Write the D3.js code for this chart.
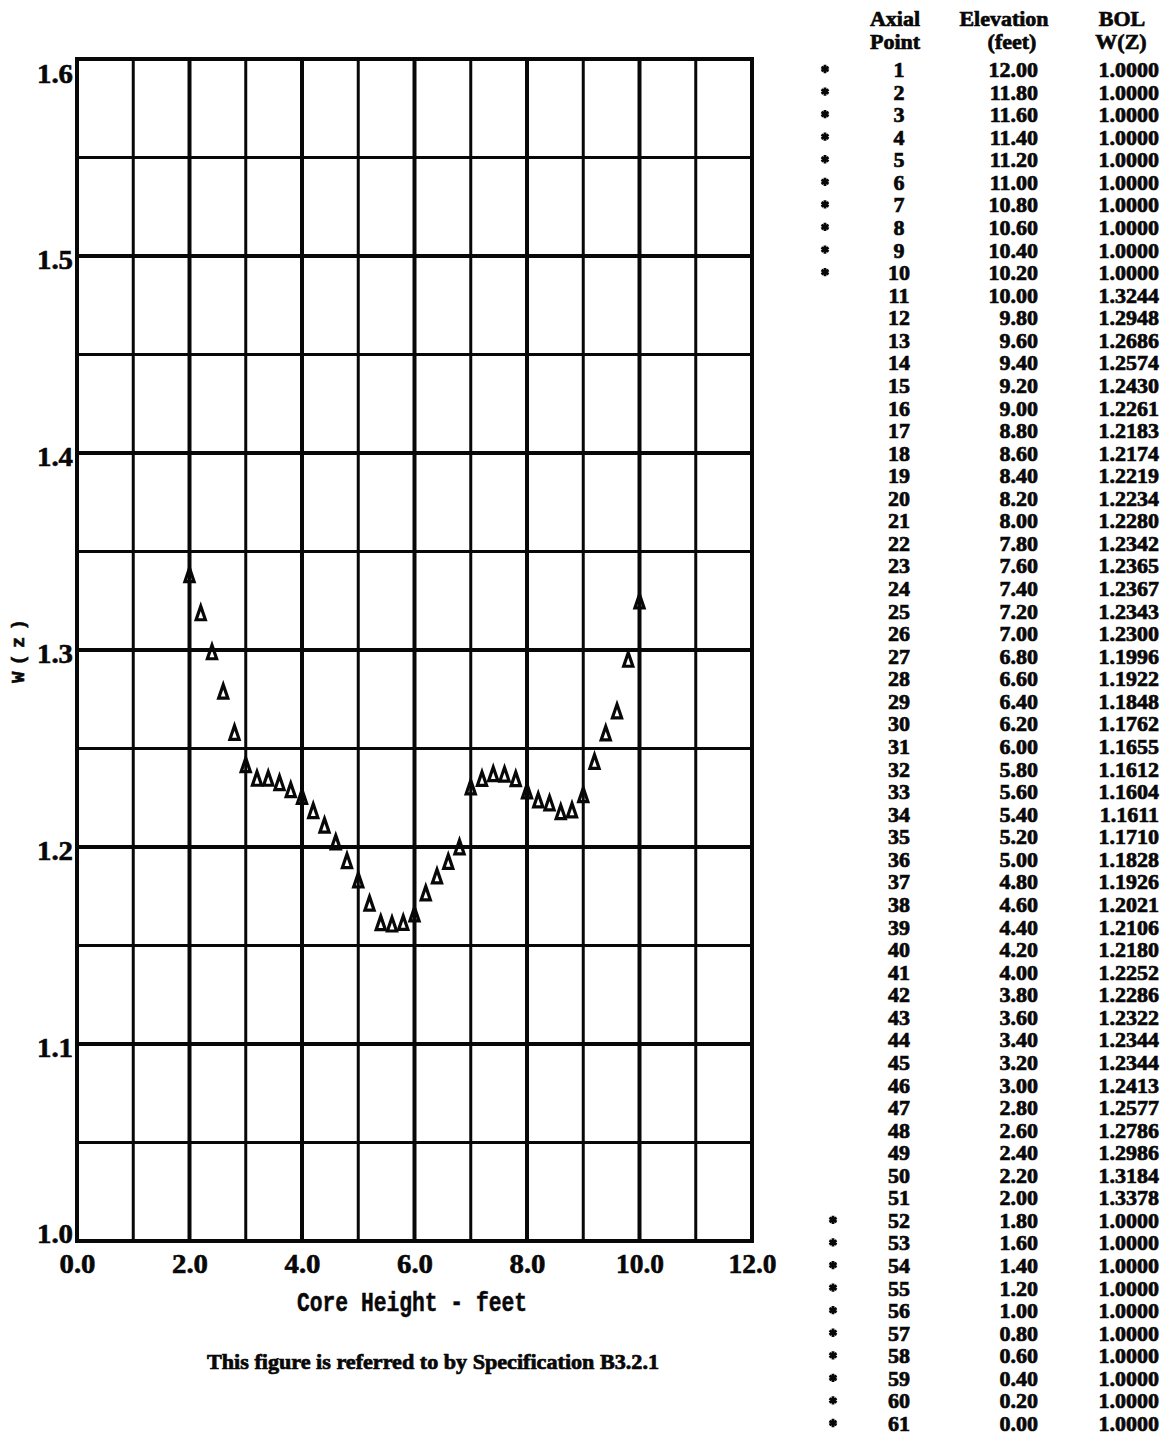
<!DOCTYPE html>
<html>
<head>
<meta charset="utf-8">
<script src="https://cdn.jsdelivr.net/npm/d3@7"></script>
<style>
  html, body { margin: 0; padding: 0; background: #fff; }
  svg { display: block; }
</style>
</head>
<body>
<svg id="chart" width="1165" height="1441"></svg>
<script>
// ---------------- data ----------------
const axialPoints = [1,2,3,4,5,6,7,8,9,10,11,12,13,14,15,16,17,18,19,20,
  21,22,23,24,25,26,27,28,29,30,31,32,33,34,35,36,37,38,39,40,
  41,42,43,44,45,46,47,48,49,50,51,52,53,54,55,56,57,58,59,60,61];
const elevations = [12.00,11.80,11.60,11.40,11.20,11.00,10.80,10.60,10.40,10.20,
  10.00,9.80,9.60,9.40,9.20,9.00,8.80,8.60,8.40,8.20,
  8.00,7.80,7.60,7.40,7.20,7.00,6.80,6.60,6.40,6.20,
  6.00,5.80,5.60,5.40,5.20,5.00,4.80,4.60,4.40,4.20,
  4.00,3.80,3.60,3.40,3.20,3.00,2.80,2.60,2.40,2.20,
  2.00,1.80,1.60,1.40,1.20,1.00,0.80,0.60,0.40,0.20,0.00];
const bolWz = [1.0000,1.0000,1.0000,1.0000,1.0000,1.0000,1.0000,1.0000,1.0000,1.0000,
  1.3244,1.2948,1.2686,1.2574,1.2430,1.2261,1.2183,1.2174,1.2219,1.2234,
  1.2280,1.2342,1.2365,1.2367,1.2343,1.2300,1.1996,1.1922,1.1848,1.1762,
  1.1655,1.1612,1.1604,1.1611,1.1710,1.1828,1.1926,1.2021,1.2106,1.2180,
  1.2252,1.2286,1.2322,1.2344,1.2344,1.2413,1.2577,1.2786,1.2986,1.3184,
  1.3378,1.0000,1.0000,1.0000,1.0000,1.0000,1.0000,1.0000,1.0000,1.0000,1.0000];
const excluded = [1,2,3,4,5,6,7,8,9,10,52,53,54,55,56,57,58,59,60,61];

const xTicks = [0,2,4,6,8,10,12];
const yTicks = [1.0,1.1,1.2,1.3,1.4,1.5,1.6];
const xGrid = [1,2,3,4,5,6,7,8,9,10,11];
const yGrid = [1.05,1.1,1.15,1.2,1.25,1.3,1.35,1.4,1.45,1.5,1.55];

const xTitle = "Core Height - feet";
const yTitle = "W(z)";
const caption = "This figure is referred to by Specification B3.2.1";
const tableHead1 = ["Axial", "Elevation", "BOL"];
const tableHead2 = ["Point", "(feet)", "W(Z)"];

// ---------------- layout ----------------
const svg = d3.select("#chart");
svg.append("rect").attr("width",1165).attr("height",1441).attr("fill","#fff");

const L = 77, R = 752, T = 59, B = 1241;
const x = d3.scaleLinear().domain([0,12]).range([L,R]);
const y = d3.scaleLinear().domain([1.0,1.6]).range([B,T]);
const ink = "#080808";
const mono = "'Liberation Mono', 'DejaVu Sans Mono', monospace";
const serif = "'Liberation Serif', 'DejaVu Serif', serif";

const g = svg.append("g");

// grid lines
const isMajX = d => Math.abs(d % 2) < 1e-9;
const isMajY = d => Math.abs(Math.round(d*100) % 10) < 1e-6;
g.append("g").selectAll("line").data(xGrid).join("line")
  .attr("x1", d=>x(d)).attr("x2", d=>x(d)).attr("y1", T).attr("y2", B)
  .attr("stroke", ink).attr("stroke-width", d=>isMajX(d)?4:3);
g.append("g").selectAll("line").data(yGrid).join("line")
  .attr("x1", L).attr("x2", R).attr("y1", d=>y(d)).attr("y2", d=>y(d))
  .attr("stroke", ink).attr("stroke-width", d=>isMajY(d)?4:3);
// frame
g.append("rect").attr("x",L).attr("y",T).attr("width",R-L).attr("height",B-T)
  .attr("fill","none").attr("stroke",ink).attr("stroke-width",4);

// axes
const fmt1 = d3.format(".1f");
const xAxis = g.append("g").attr("transform",`translate(0,${B})`)
  .call(d3.axisBottom(x).tickValues(xTicks).tickFormat(fmt1).tickSize(0));
xAxis.select(".domain").remove();
xAxis.selectAll("text")
  .attr("y", 32).attr("dy", 0)
  .attr("font-family", serif).attr("font-weight","bold").attr("font-size", 27)
  .attr("fill", ink).attr("stroke", ink).attr("stroke-width", 0.6)
  .attr("textLength", d=>fmt1(d).length*12).attr("lengthAdjust","spacingAndGlyphs");

const yAxis = g.append("g").attr("transform",`translate(${L},0)`)
  .call(d3.axisLeft(y).tickValues(yTicks).tickFormat(fmt1).tickSize(0).tickPadding(4));
yAxis.select(".domain").remove();
yAxis.selectAll("text")
  .attr("dy", 0)
  .attr("y", d => d===1.6 ? 23 : (d===1.0 ? 1 : 12))
  .attr("font-family", serif).attr("font-weight","bold").attr("font-size", 27)
  .attr("fill", ink).attr("stroke", ink).attr("stroke-width", 0.6)
  .attr("textLength", d=>fmt1(d).length*12).attr("lengthAdjust","spacingAndGlyphs");

// axis titles
g.append("text").attr("x", 412).attr("y", 1311).attr("text-anchor","middle")
  .attr("font-family", mono).attr("font-weight","bold").attr("font-size", 28)
  .attr("fill", ink).attr("stroke", ink).attr("stroke-width", 0.5)
  .attr("textLength", 230).attr("lengthAdjust","spacingAndGlyphs")
  .text(xTitle);
g.append("text").attr("transform","rotate(-90)")
  .attr("x", -651).attr("y", 24).attr("text-anchor","middle")
  .attr("font-family", mono).attr("font-weight","bold").attr("font-size", 19)
  .attr("fill", ink).attr("stroke", ink).attr("stroke-width", 0.6)
  .attr("textLength", 64).attr("lengthAdjust","spacing")
  .text(yTitle);

// caption
g.append("text").attr("x", 433).attr("y", 1369).attr("text-anchor","middle")
  .attr("font-family", serif).attr("font-weight","bold").attr("font-size", 21)
  .attr("fill", ink).attr("stroke", ink).attr("stroke-width", 0.7)
  .attr("textLength", 452).attr("lengthAdjust","spacingAndGlyphs")
  .text(caption);

// data markers (non-excluded points)
const pts = axialPoints.map((p,i)=>({p, e:elevations[i], w:bolWz[i]}))
  .filter(d => !excluded.includes(d.p));
const tri = "M0,-7.5 L4.6,6 L-4.6,6 Z";
g.append("g").selectAll("path").data(pts).join("path")
  .attr("transform", d=>`translate(${x(d.e)},${y(d.w)})`)
  .attr("d", tri).attr("fill","none").attr("stroke", ink)
  .attr("stroke-width", 3.2).attr("stroke-linejoin","miter");

// ---------------- table ----------------
const tg = svg.append("g").attr("font-family", serif).attr("font-weight","bold")
  .attr("font-size", 22).attr("fill", ink).attr("stroke", ink).attr("stroke-width", 0.7);
const rowY = d3.scalePoint().domain(axialPoints).range([77, 1431]);
const colX = [899, 1038, 1159];
const colAnchor = ["middle","end","end"];
const headX = [895, 1004, 1122];
const head2X = [895, 1012, 1121];
tg.selectAll("text.h1").data(tableHead1).join("text").attr("class","h1")
  .attr("x",(d,i)=>headX[i]).attr("y",26).attr("text-anchor","middle").text(d=>d);
tg.selectAll("text.h2").data(tableHead2).join("text").attr("class","h2")
  .attr("x",(d,i)=>head2X[i]).attr("y",49).attr("text-anchor","middle").text(d=>d);

const fmt2 = d3.format(".2f"), fmt4 = d3.format(".4f");
const rows = tg.selectAll("g.row").data(axialPoints.map((p,i)=>({p, e:elevations[i], w:bolWz[i]})))
  .join("g").attr("class","row").attr("transform", d=>`translate(0,${rowY(d.p)})`);
rows.append("text").attr("x", colX[0]).attr("text-anchor", colAnchor[0]).text(d=>d.p);
rows.append("text").attr("x", colX[1]).attr("text-anchor", colAnchor[1]).text(d=>fmt2(d.e));
rows.append("text").attr("x", colX[2]).attr("text-anchor", colAnchor[2]).text(d=>fmt4(d.w));

// asterisks for excluded points
svg.append("g").selectAll("path").data(excluded).join("path")
  .attr("transform", d=>`translate(${d<30?825:833},${rowY(d)-8})`)
  .attr("d", d3.symbol(d3.symbolAsterisk, 48)())
  .attr("fill","none").attr("stroke", ink).attr("stroke-width", 2.8);
</script>
</body>
</html>
